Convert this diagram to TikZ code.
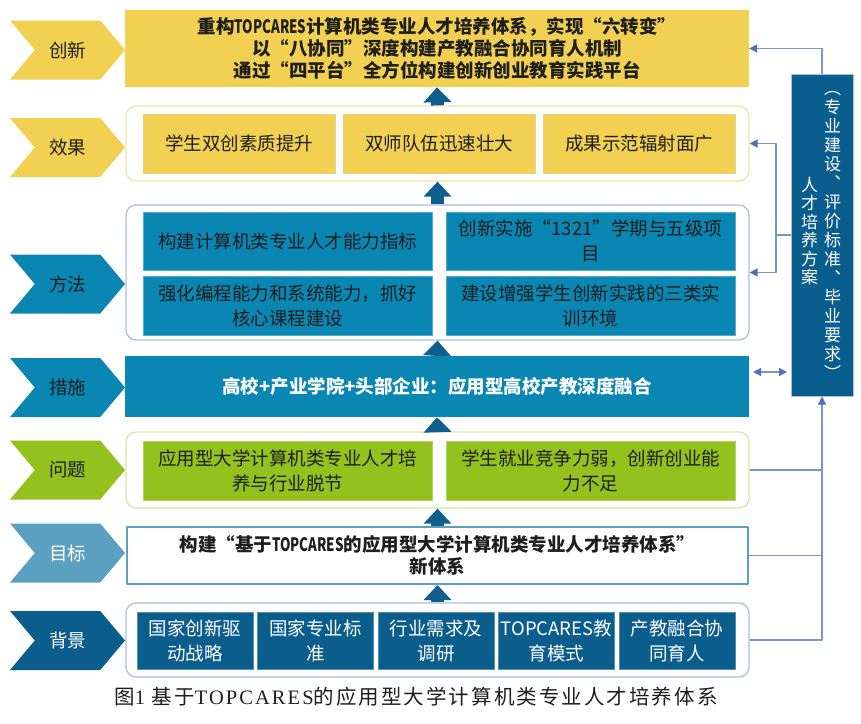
\documentclass[tikz,border=0pt]{standalone}
\usepackage{fontspec}
\setmainfont{Noto Sans CJK SC}
\newfontfamily\capfont{Noto Sans CJK SC}[LetterSpace=10]
\newfontfamily\caplat{Liberation Serif}[LetterSpace=10]
\usetikzlibrary{shapes.symbols,arrows.meta}
\definecolor{gold}{HTML}{F2D052}
\definecolor{goldline}{HTML}{F4E3A3}
\definecolor{methc}{HTML}{0A86B3}
\definecolor{methline}{HTML}{AABFD9}
\definecolor{probc}{HTML}{94C11E}
\definecolor{probline}{HTML}{D6E59F}
\definecolor{goalc}{HTML}{5B9FC1}
\definecolor{backc}{HTML}{0B5D8B}
\definecolor{planc}{HTML}{0A5E8E}
\definecolor{linkc}{HTML}{7B96CC}
\definecolor{tipc}{HTML}{4A71C2}
\definecolor{blkc}{HTML}{0F5F8E}
\definecolor{ink}{HTML}{1E1E1E}
\newcommand\tcname{\scalebox{0.72}[1]{TOPCARES}}
\begin{document}
\begin{tikzpicture}[x=1pt,y=-1pt,line join=round,
	txt/.style={font=\fontsize{18.5}{25}\selectfont,align=center,inner sep=0pt,text=ink},
	tag/.style={txt,shape=signal,signal from=west,signal to=east,signal pointer angle=100,minimum width=115pt,minimum height=59pt},
	box/.style={txt,minimum width=#1,minimum height=59pt},
	frame/.style={rounded corners=10pt,line width=1.2pt,fill=white,minimum width=623pt,inner sep=0pt},
	blk/.style={blkc,line width=13pt,-{Triangle[width=27pt,length=15pt]}},
	link/.style={linkc,line width=1.2pt},
	>={Triangle[length=8pt,width=8pt,color=tipc]}]
	\useasboundingbox (0,0) rectangle (861,723);
	% left tags
	\node[tag,fill=gold] (tinno) at (67.5,50) {创新};
	\node[tag,fill=gold] (teff) at (67.5,147.5) {效果};
	\node[tag,fill=methc] (tmeth) at (67.5,284) {方法};
	\node[tag,fill=methc] (tmeas) at (67.5,387.5) {措施};
	\node[tag,fill=probc] (tprob) at (67.5,470) {问题};
	\node[tag,fill=goalc,text=white] (tgoal) at (67.5,553) {目标};
	\node[tag,fill=backc,text=white] (tback) at (67.5,640.5) {背景};
	% innovation
	\node[txt,fill=gold,minimum width=624pt,minimum height=77pt,font=\fontsize{18.5}{22}\selectfont\bfseries] (innov) at (437,48.5)
		{重构\tcname 计算机类专业人才培养体系，实现“六转变”\\以“八协同”深度构建产教融合协同育人机制\\通过“四平台”全方位构建创新创业教育实践平台};
	% effect
	\node[frame,draw=goldline,minimum height=75pt] (effframe) at (437.5,143.5) {};
	\node[box=192pt,fill=gold,draw=gold!85!black!60] (eff1) at (239,143.5) {学生双创素质提升};
	\node[box=192pt,fill=gold,draw=gold!85!black!60] (eff2) at (439,143.5) {双师队伍迅速壮大};
	\node[box=192pt,fill=gold,draw=gold!85!black!60] (eff3) at (639,143.5) {成果示范辐射面广};
	% method
	\node[frame,draw=methline,minimum height=135pt] (methframe) at (437.5,272.5) {};
	\node[box=289pt,fill=methc,draw=methc!70!white,minimum height=58pt] (meth1) at (287.5,241) {构建计算机类专业人才能力指标};
	\node[box=289pt,fill=methc,draw=methc!70!white,minimum height=58pt] (meth2) at (590.5,241) {创新实施“1321”学期与五级项\\目};
	\node[box=289pt,fill=methc,draw=methc!70!white] (meth3) at (287.5,305.5) {强化编程能力和系统能力，抓好\\核心课程建设};
	\node[box=289pt,fill=methc,draw=methc!70!white] (meth4) at (590.5,305.5) {建设增强学生创新实践的三类实\\训环境};
	% measure
	\node[txt,fill=methc,text=white,minimum width=624pt,minimum height=61pt,font=\fontsize{18.5}{22}\selectfont\bfseries] (meas) at (437,386.5)
		{高校+产业学院+头部企业：应用型高校产教深度融合};
	% problem
	\node[frame,draw=probline,minimum height=76pt] (probframe) at (437.5,470) {};
	\node[box=289pt,fill=probc,draw=probc!70!white] (prob1) at (287.5,470.5) {应用型大学计算机类专业人才培\\养与行业脱节};
	\node[box=289pt,fill=probc,draw=probc!70!white] (prob2) at (590.5,470.5) {学生就业竞争力弱，创新创业能\\力不足};
	% goal
	\node[txt,draw=goalc,line width=2pt,fill=white,minimum width=621pt,minimum height=57pt,font=\fontsize{18.5}{22}\selectfont\bfseries] (goal) at (437.5,555.5)
		{构建“基于\tcname 的应用型大学计算机类专业人才培养体系”\\新体系};
	% background
	\node[frame,draw=methline,minimum height=74pt] (backframe) at (437.5,640) {};
	\foreach \t [count=\i] in {{国家创新驱\\动战略},{国家专业标\\准},{行业需求及\\调研},{TOPCARES教\\育模式},{产教融合协\\同育人}}
		\node[box=116pt,fill=backc,text=white,draw=backc!70!white,minimum height=57pt] (back\i) at ({195+120.5*(\i-1)},640.5) {\t};
	% up arrows
	\draw[blk] (backframe.north) -- (goal.south);
	\draw[blk] (goal.north) -- (probframe.south);
	\draw[blk] (probframe.north) -- (meas.south);
	\draw[blk] (meas.north) -- (methframe.south);
	\draw[blk] (methframe.north) -- (effframe.south);
	\draw[blk] (effframe.north) -- (innov.south);
	% training plan
	\node[fill=planc,draw=methline,line width=1pt,minimum width=62pt,minimum height=322pt,inner sep=0pt] (plan) at (822,235) {};
	\node[txt,text=white,font=\fontsize{17}{19}\selectfont] (planr) at ([xshift=10.5pt]plan.center)
		{︵\\专\\业\\建\\设\\︑\\评\\价\\标\\准\\︑\\毕\\业\\要\\求\\︶};
	\node[txt,text=white,font=\fontsize{17}{18.5}\selectfont] (planl) at ([xshift=-12.5pt,yshift=4pt]plan.center)
		{人\\才\\培\\养\\方\\案};
	% links
	\coordinate (split) at (776,235);
	\coordinate (mlink) at (753,372);
	\coordinate (plink) at (787,372);
	\draw[link,->] (plan.north) |- (innov.east);
	\draw[link,->] (plan.west) -- (split) |- (effframe.east);
	\draw[link,->] (split) |- (methframe.east);
	\draw[link,<->] (mlink) -- (plink);
	\draw[link,->] (backframe.east) -| (plan.south);
	\draw[link] (probframe.east) -- (probframe.east -| plan.south);
	\draw[link] (goal.east) -- (goal.east -| plan.south);
	% caption
	\node[font=\capfont\fontsize{20.5}{24}\selectfont,text=ink] (cap) at (416,697)
		{图{\caplat 1} 基于{\caplat TOPCARES}的应用型大学计算机类专业人才培养体系};
\end{tikzpicture}
\end{document}
